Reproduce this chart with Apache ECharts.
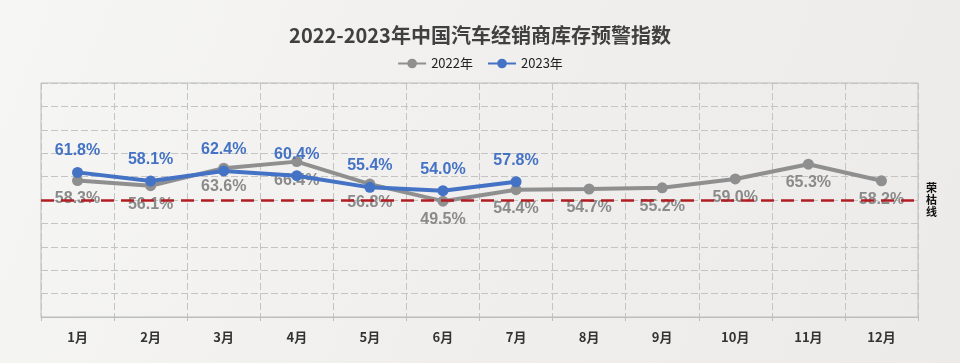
<!DOCTYPE html>
<html>
<head>
<meta charset="utf-8">
<script src="https://cdn.jsdelivr.net/npm/echarts@6/dist/echarts.min.js"></script>
<style>
html,body{margin:0;padding:0;background:#f0efee;}
#c{width:960px;height:363px;}
</style>
</head>
<body>
<div id="c"></div>
<script>
var months = ['1月','2月','3月','4月','5月','6月','7月','8月','9月','10月','11月','12月'];
var data2022 = [58.3, 56.1, 63.6, 66.4, 56.8, 49.5, 54.4, 54.7, 55.2, 59.0, 65.3, 58.2];
var data2023 = [61.8, 58.1, 62.4, 60.4, 55.4, 54.0, 57.8];
var thresholdValue = 50;
var yMin = 0, yMax = 100, yInterval = 10;

var chart = echarts.init(document.getElementById('c'), null, {renderer: 'canvas'});
var labelFont = {fontFamily: '"Liberation Sans Narrow", "Liberation Sans", sans-serif', fontWeight: 'bold', fontSize: 16};
chart.setOption({
  backgroundColor: {
    type: 'linear', x: 0, y: 0, x2: 1, y2: 1,
    colorStops: [{offset: 0, color: '#f6f6f5'}, {offset: 0.5, color: '#f0efee'}, {offset: 1, color: '#ecebea'}]
  },
  animation: false,
  title: {
    text: '2022-2023年中国汽车经销商库存预警指数',
    left: 'center', top: 20,
    textStyle: {fontSize: 20, fontWeight: 'bold', color: '#404040', fontFamily: '"Noto Sans CJK SC", sans-serif'}
  },
  legend: {
    top: 52, left: 'center',
    itemWidth: 28, itemHeight: 12, itemGap: 14,
    textStyle: {fontSize: 13, color: '#222', fontFamily: '"Noto Sans CJK SC", sans-serif'},
    data: ['2022年', '2023年']
  },
  grid: {left: 41, right: 42, top: 83, bottom: 46, show: true, borderColor: '#bdbdbd', borderWidth: 1, backgroundColor: 'transparent'},
  xAxis: {
    type: 'category', data: months, boundaryGap: true,
    axisLine: {lineStyle: {color: '#bdbdbd', width: 1}},
    axisTick: {show: true, length: 4, lineStyle: {color: '#bdbdbd'}},
    axisLabel: {color: '#333', fontSize: 13, fontWeight: 'bold', margin: 14, fontFamily: '"Noto Sans CJK SC", sans-serif'},
    splitLine: {show: true, lineStyle: {color: '#c4c4c4', type: [7, 3], width: 1}}
  },
  yAxis: {
    type: 'value', min: yMin, max: yMax, interval: yInterval,
    axisLabel: {show: false}, axisLine: {show: false}, axisTick: {show: false},
    splitLine: {show: true, lineStyle: {color: '#c4c4c4', type: [7, 3], width: 1}}
  },
  series: [
    {
      name: '2022年', type: 'line', data: data2022,
      symbol: 'circle', symbolSize: 11,
      lineStyle: {color: '#8f8f8f', width: 4},
      itemStyle: {color: '#8f8f8f'},
      label: Object.assign({show: true, position: 'bottom', distance: 5, color: '#8a8a8a', formatter: function(p){return p.value.toFixed(1) + '%';}}, labelFont),
      z: 2
    },
    {
      name: '2023年', type: 'line', data: data2023,
      symbol: 'circle', symbolSize: 11,
      lineStyle: {color: '#4472c4', width: 4},
      itemStyle: {color: '#4472c4'},
      label: Object.assign({show: true, position: 'top', distance: 8, color: '#4472c4', formatter: function(p){return p.value.toFixed(1) + '%';}}, labelFont),
      z: 3
    },
    {
      name: '荣枯线', type: 'line', data: [], z: 10,
      markLine: {
        silent: true, symbol: 'none',
        lineStyle: {color: '#b01e23', width: 2.5, type: [13, 7]},
        label: {show: true, position: 'end', distance: 8, formatter: '荣\n枯\n线', color: '#111', fontSize: 11, fontWeight: 'bold', lineHeight: 12, fontFamily: '"Noto Sans CJK SC", sans-serif'},
        data: [{yAxis: thresholdValue}]
      }
    }
  ]
});
</script>
</body>
</html>
